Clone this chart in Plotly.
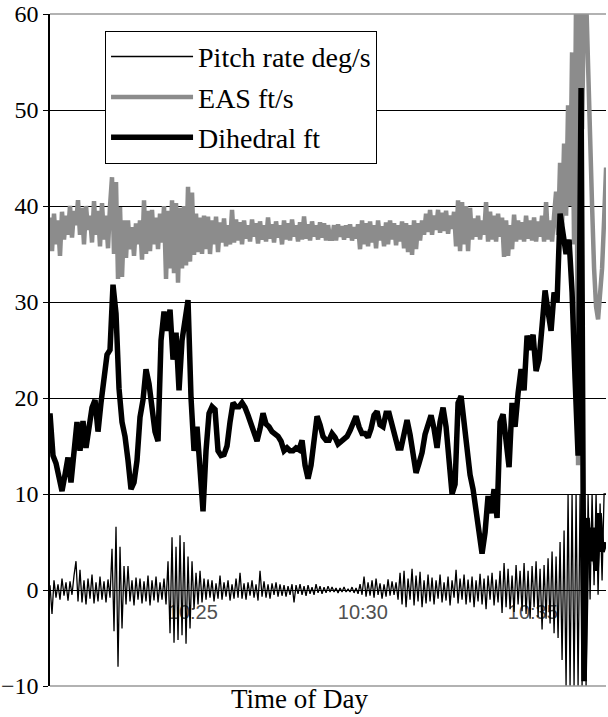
import pandas as pd
import plotly.graph_objects as go

# ---------------- data ----------------
START = "2015-01-01 10:20:48"
END = "2015-01-01 10:37:09.2"
FAST_DT_S = 3.53   # sample period of pitch rate / EAS (s)
SLOW_DT_S = 5.295  # sample period of dihedral (s)

tick_times = ["2015-01-01 10:25:00", "2015-01-01 10:30:00", "2015-01-01 10:35:00"]
tick_labels = ["10:25", "10:30", "10:35"]
y_ticks = [-10, 0, 10, 20, 30, 40, 50, 60]

series_names = ["Pitch rate deg/s", "EAS ft/s", "Dihedral ft"]

pitch_rate = [
    0.5, -2.5,
    1.0, -0.8, 0.6, -1.0, 1.2, -0.6, 0.8, -1.1, 0.9, -0.5,
    1.5, 3.0, -1.2, 2.1,
    -1.3, 1.0, -1.5, 1.2, -0.9, 1.6, -1.4, 0.8, -1.2, 1.4, -1.0, 0.9, -1.3, 1.1, -0.8,
    4.3, -4.3, 6.6, -8.0, 4.5, -4.0, 2.5,
    -1.5, 2.5, -1.2, 1.0, -1.6, 1.3, -1.0, 1.2, -1.4, 0.9, -1.2, 1.5, -1.6, 1.0, -1.1, 1.4, -1.3, 0.8, -1.0, 1.2, -1.5,
    3.0, -4.5, 5.5, -5.5, 4.5, -5.2, 5.7, -4.7, 5.0, -5.6, 3.5, -4.0, 3.0,
    -2.0, 1.8, -1.5, 2.0, -1.3, 1.2,
    -1.0, 1.1, -0.8, 1.0, -1.2, 0.7, -0.9, 1.5, -1.0, 0.8, -0.7, 1.0, -1.1, 0.6, -0.9, 1.2, -0.8, 1.8,
    -0.9, 0.7, -1.0, 0.8, -0.6, 1.0, -0.8, 0.6, -1.1, 2.0, -0.7, 0.9, -0.8, 0.6, -0.9, 0.7, -0.5, 0.8, -0.7, 0.6,
    -0.6, 0.5, -0.7, 0.4, -0.5, 0.6, -1.3, 0.5, -0.4, 0.6, -0.5, 0.4, -0.6, 0.5, -0.4, 0.3, -0.5, 0.6, -0.3, 0.4,
    -0.4, 0.3, -0.3, 0.4, -0.2,
    0.3, -0.2, 0.2, -0.3, 0.2, -0.2, 0.3, -0.2, 0.1, -0.2, 0.3, -0.3, 0.2, -0.4,
    0.6, -0.5, 1.4, -0.7, 0.8, -0.6, 1.0, -0.8, 1.2, -0.5, 0.7, -0.9, 0.6, -0.7, 1.1, -0.6, 0.9, -0.5, 0.8, -1.0,
    1.8, -1.5, 2.0, -1.8, 1.2, -1.0, 2.2, -1.6, 1.5, -1.2, 1.9, -1.8, 1.0, -1.4, 1.6,
    -1.2, 1.3, -1.5, 1.0, -0.9, 1.6, -1.3, 0.8, -1.1, 1.4, -1.6, 1.0, -0.8, 2.1, -1.4, 1.2, -1.0, 1.6, -1.5, 1.1, -1.3,
    1.4, -1.8, 1.0, -1.2, 1.7, -1.5, 1.2, -2.0, 1.5, -1.0, 1.8, -1.6, 1.1, -1.3, 2.0,
    -2.4, 2.8, -1.8, 2.2, -2.0, 1.5, -2.3, 2.6, -1.5, 2.0, -2.2,
    2.8, -2.5, 2.0, -3.0, 2.5, -1.8, 3.0, -2.8, 2.2, -4.1, 2.6, -3.0,
    3.3, -3.5, 4.0, -4.5, 3.5, -5.0, 5.0,
    -7.3, 6.2,
    -10, 10, -10, 10, -10, 10, -10, 10, -10, 10, -10, 10, -1.0,
    10, 0.5, 10, -0.5, 9.0, 1.0, 10, 10,
]

eas = [
    38.8, 35.3, 39.2, 36.0, 38.5, 34.8, 39.4, 36.5,
    39.0, 37.0, 40.0, 36.7, 39.5, 38.0, 40.6,
    37.0, 39.8, 36.0, 40.0, 37.5, 39.0, 36.2, 40.5, 37.0,
    39.5, 35.8, 40.3, 36.5, 39.0, 35.6, 40.0,
    43.0, 35.0, 42.5, 32.4,
    39.9, 32.6, 38.5,
    34.6, 38.5, 35.5, 37.8, 34.8, 38.2, 36.0, 38.5,
    34.4, 40.6, 35.0, 39.5,
    35.3, 39.6, 36.0, 38.8, 35.5, 39.2, 36.2,
    40.0, 32.4, 39.5, 33.5, 40.6,
    33.0, 40.3, 32.0, 39.8, 33.5, 40.0,
    33.8, 42.0, 34.2, 41.4,
    34.9, 39.2, 35.2, 38.8, 35.0, 39.0,
    35.5, 38.9, 35.0, 38.5, 36.0, 38.9, 35.2, 38.3, 36.2, 38.7, 35.8,
    38.0, 36.0, 39.6, 36.2, 38.6,
    36.4, 38.3, 36.0, 38.5, 36.6, 38.0, 36.3, 38.6, 36.8, 38.2, 36.1, 38.4, 36.5, 38.0, 36.3, 38.8,
    36.6, 38.1, 36.2, 38.4, 36.7, 38.0, 36.0, 38.5, 36.5, 38.2, 36.4, 38.6, 36.8, 38.0, 36.3, 38.3,
    36.5, 38.9, 36.6, 38.1, 36.4, 38.4, 36.8, 38.0, 36.5, 38.3, 36.7, 38.2, 36.4, 38.0, 36.6,
    36.6, 38.0, 36.4, 38.1, 36.8, 37.9, 36.5, 38.0, 36.7, 38.1, 36.4, 37.8, 36.6, 38.1,
    35.5, 38.5, 36.0, 38.2, 35.8, 38.4, 36.2, 38.0, 35.6, 38.5, 36.4, 37.9, 35.8, 38.3, 36.0, 38.5,
    36.5, 38.2, 35.9, 38.0, 36.3, 38.4,
    35.6, 38.2, 35.2, 38.0, 34.9, 38.5, 35.5, 38.2, 36.4,
    38.5, 37.0, 39.2, 37.3, 39.6, 37.0, 39.0, 37.5, 39.6, 37.2, 39.3, 37.4, 39.5, 37.1, 39.0, 37.6, 39.4,
    35.8, 40.6, 35.3, 40.4, 36.0, 40.0, 35.3, 39.8,
    36.5, 38.7, 36.8, 39.0, 36.5, 38.5, 37.0, 40.4,
    36.3, 39.4, 36.5, 39.0, 36.3, 39.2, 36.8, 38.8,
    34.7, 38.5, 34.8, 38.0, 35.5,
    39.1, 36.3, 38.5, 36.5, 38.3, 36.3, 39.0, 36.6, 38.5, 36.4, 38.8, 36.3, 38.4, 36.8, 39.0,
    36.3, 40.4, 36.5, 38.5, 36.3, 39.0,
    41.5, 37.0, 44.5, 38.0, 46.5, 39.0, 50.5, 40.0, 56.0, 36.0, 62.0, 13.0, 62.0,
    48.0, 62.0, 62.0, 53.5, 47.0, 40.0, 33.5, 29.5, 28.2, 30.5, 33.5, 38.5, 44.0,
]

dihedral = [
    18.4, 14.0, 13.2, 11.5, 10.3, 12.0, 13.8, 11.2, 14.5, 17.5,
    14.5, 17.6, 14.8, 17.2, 19.0, 19.8, 16.5, 19.5, 22.5, 24.5,
    25.0, 31.8, 28.8, 21.0, 17.5, 16.0, 13.5, 10.5, 11.2, 13.5,
    18.0, 19.8, 23.0, 21.5, 19.0, 16.5, 15.5, 26.0, 29.0, 27.0,
    29.2, 24.0, 26.8, 20.8, 26.0, 28.5, 30.2, 20.0, 14.5, 17.0,
    12.0, 8.2, 14.5, 18.4, 19.1, 18.8, 14.5, 14.0, 14.1, 15.0,
    17.5, 19.5, 19.1, 19.1, 19.5, 19.0, 18.2, 17.3, 16.0, 15.5,
    16.8, 18.4, 17.3, 17.0, 16.5, 16.3, 16.0, 15.5, 14.5, 14.8,
    14.5, 14.5, 14.8, 14.6, 15.6, 13.0, 11.6, 13.0, 16.0, 18.1,
    17.2, 16.0, 15.6, 15.6, 16.3, 15.9, 15.2, 15.5, 15.7, 16.0,
    16.6, 17.3, 18.1, 17.0, 16.3, 16.3, 15.9, 16.8, 18.2, 18.6,
    17.2, 17.0, 18.4, 18.4, 17.3, 16.0, 14.8, 14.8, 16.0, 17.7,
    16.2, 14.1, 12.2, 13.2, 14.3, 16.2, 17.5, 18.2, 16.8, 14.8,
    17.5, 19.0, 17.0, 13.5, 10.0, 11.0, 19.5, 20.2, 17.0, 14.5,
    12.0, 10.5, 8.5, 6.0, 3.8, 6.0, 9.8, 8.0, 10.5, 7.5,
    17.5, 18.3, 15.0, 12.8, 19.5, 17.0, 20.5, 23.0, 20.8, 26.5,
    25.0, 26.6, 22.8, 24.0, 27.5, 31.2, 29.0, 27.0, 31.0, 30.0,
    39.2, 37.0, 35.0, 36.5, 31.0, 22.0, 14.0, 52.3, -9.5, 7.5,
    3.0, 6.5, 2.0, 8.0, 4.0, 5.0,
]


def times(n, dt):
    return pd.Timestamp(START) + pd.to_timedelta([i * dt for i in range(n)], unit="s")


t_fast_p = times(len(pitch_rate), FAST_DT_S)
t_fast_e = times(len(eas), FAST_DT_S)
t_slow = times(len(dihedral), SLOW_DT_S)

SERIF = "Liberation Serif"
SANS = "Liberation Sans"

fig = go.Figure()
fig.add_trace(go.Scatter(x=t_fast_p, y=pitch_rate, mode="lines", name=series_names[0],
                         line=dict(color="black", width=1.3), legendgroup="a"))
fig.add_trace(go.Scatter(x=t_fast_e, y=eas, mode="lines", name=series_names[1],
                         line=dict(color="#8c8c8c", width=4.5), legendgroup="b"))
fig.add_trace(go.Scatter(x=t_slow, y=dihedral, mode="lines", name=series_names[2],
                         line=dict(color="black", width=5.5), legendgroup="c"))

fig.update_layout(
    width=608, height=717,
    margin=dict(l=50, r=2, t=14, b=31, autoexpand=False),
    paper_bgcolor="white", plot_bgcolor="white",
    showlegend=True,
    legend=dict(x=0.099, y=0.975, xanchor="left", yanchor="top",
                bgcolor="white", bordercolor="black", borderwidth=1,
                font=dict(family=SERIF, size=28, color="black"),
                itemwidth=82, tracegroupgap=1, traceorder="grouped"),
    xaxis=dict(type="date", range=[START, END],
               tickvals=tick_times, ticktext=tick_labels,
               anchor="free", position=1 / 7, automargin=False,
               showgrid=False, zeroline=False, showline=False, ticks="",
               layer="below traces", ticklabelstandoff=8,
               tickfont=dict(family=SANS, size=20, color="#505050")),
    yaxis=dict(range=[-10, 60], tickvals=y_ticks, automargin=False,
               showgrid=True, gridcolor="black", gridwidth=1,
               zeroline=True, zerolinecolor="black", zerolinewidth=1,
               showline=True, linecolor="black", linewidth=1.5,
               ticks="outside", ticklen=5, tickcolor="black",
               ticklabeloverflow="allow",
               tickfont=dict(family=SERIF, size=24, color="black")),
    annotations=[dict(text="Time of Day", xref="paper", yref="paper",
                      x=0.4496, y=0, xanchor="center", yanchor="middle", yshift=-13,
                      showarrow=False, font=dict(family=SERIF, size=27, color="black"))],
    shapes=[
        dict(type="line", xref="paper", yref="paper", x0=0, x1=1, y0=1, y1=1,
             line=dict(color="#999999", width=1.5)),
        dict(type="line", xref="paper", yref="paper", x0=0, x1=1, y0=0, y1=0,
             line=dict(color="#999999", width=1.5)),
    ],
)

fig.write_html("out.html")
